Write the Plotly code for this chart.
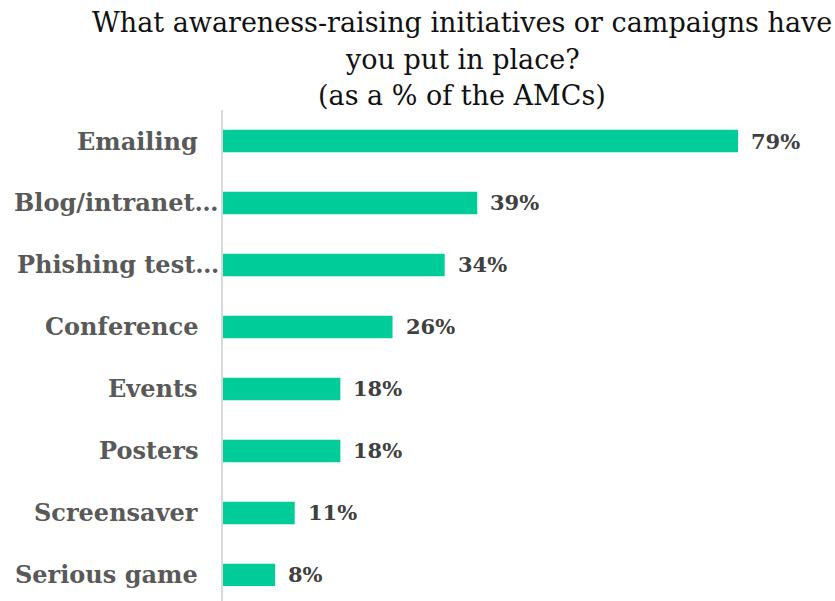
import plotly.graph_objects as go

categories = ["Emailing", "Blog/intranet…", "Phishing test…", "Conference",
              "Events", "Posters", "Screensaver", "Serious game"]
values = [79, 39, 34, 26, 18, 18, 11, 8]
value_labels = ["79%", "39%", "34%", "26%", "18%", "18%", "11%", "8%"]
title_lines = ["What awareness-raising initiatives or campaigns have",
               "you put in place?",
               "(as a % of the AMCs)"]

SERIF = "DejaVu Serif"
W = 835
H = 601
L = 223
R = 5
T = 110
PLOT_H = H - T
PLOT_W = W - L - R


def paper_y(px):
    return 1 + (T - px) / PLOT_H


def paper_x(px):
    return (px - L) / PLOT_W


fig = go.Figure()
fig.add_trace(go.Bar(
    x=values, y=categories, orientation="h",
    marker=dict(color="#00CC99", line=dict(width=0)),
    width=0.36, hoverinfo="skip",
))

annotations = []
for c, v, t in zip(categories, values, value_labels):
    annotations.append(dict(x=v, y=c, xref="x", yref="y", text="<b>%s</b>" % t,
                            showarrow=False, xanchor="left", yanchor="middle",
                            xshift=11, font=dict(family=SERIF, size=21, color="#404040")))
    shift = -2 if c.endswith("…") else -23
    annotations.append(dict(x=0, y=c, xref="x", yref="y", text="<b>%s</b>" % c,
                            showarrow=False, xanchor="right", yanchor="middle",
                            xshift=shift, font=dict(family=SERIF, size=24, color="#595959")))

title_px = [22, 59, 95]
for line, py in zip(title_lines, title_px):
    annotations.append(dict(x=paper_x(462), y=paper_y(py), xref="paper", yref="paper",
                            text=line, showarrow=False, xanchor="center", yanchor="middle",
                            font=dict(family=SERIF, size=27, color="#111111")))

fig.update_layout(
    width=W, height=H,
    paper_bgcolor="white", plot_bgcolor="white",
    margin=dict(l=L, r=R, t=T, b=0),
    showlegend=False,
    xaxis=dict(range=[0, 93.1], showgrid=False, zeroline=False, showticklabels=False,
               showline=False, fixedrange=True),
    yaxis=dict(categoryorder="array", categoryarray=categories, range=[7.42, -0.5],
               showticklabels=False, showgrid=False, zeroline=False,
               showline=True, linecolor="#D9D9D9", linewidth=2, ticks="", fixedrange=True),
    annotations=annotations,
)

fig.write_html("out.html", config={"displayModeBar": False},
               post_script="document.body.style.margin='0';")
